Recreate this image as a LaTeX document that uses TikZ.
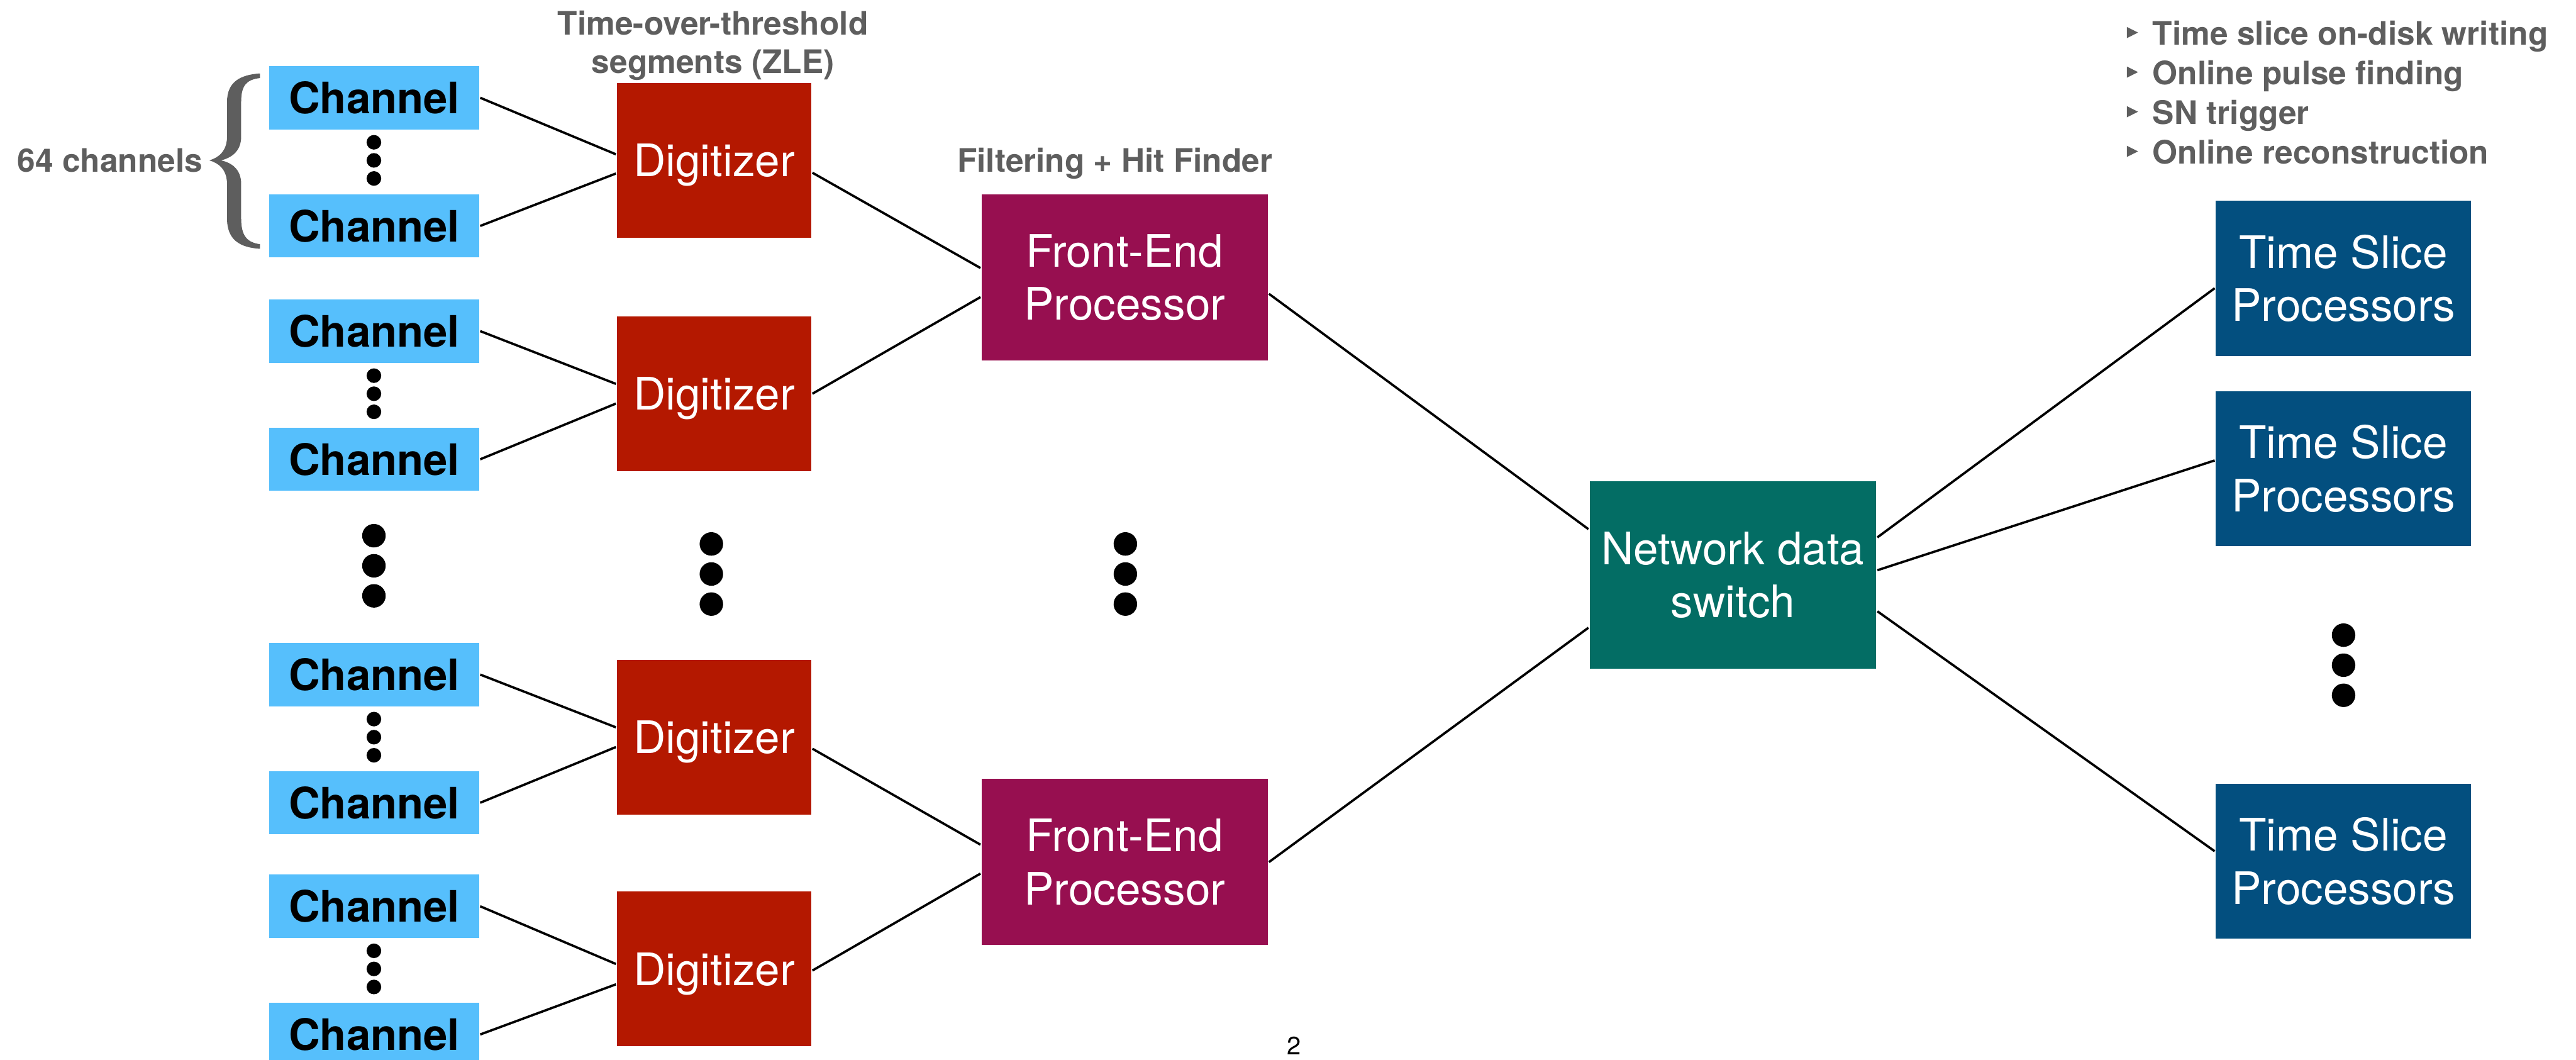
\documentclass[tikz,border=0pt]{standalone}
\usepackage{fontspec}
\setmainfont{TeX Gyre Heros}

\definecolor{chanblue}{HTML}{56BFFC}
\definecolor{digired}{HTML}{B41800}
\definecolor{feppurple}{HTML}{970F50}
\definecolor{switchteal}{HTML}{036D64}
\definecolor{tspblue}{HTML}{034F7F}
\definecolor{notegray}{HTML}{5E5E5E}

\tikzset{
  block/.style={rectangle, inner sep=0pt, align=center, text=white,
    font=\fontsize{15.5}{18.4}\selectfont},
  channel box/.style={block, fill=chanblue, text=black,
    minimum width=25.52mm, minimum height=7.7mm,
    font=\fontsize{15}{18}\selectfont\bfseries},
  digitizer box/.style={block, fill=digired, text depth=0pt,
    minimum width=23.64mm, minimum height=18.8mm},
  fep box/.style={block, fill=feppurple, minimum width=34.84mm, minimum height=20.2mm},
  switch box/.style={block, fill=switchteal, minimum width=34.9mm, minimum height=22.8mm},
  tsp box/.style={block, fill=tspblue, minimum width=31.06mm, minimum height=18.86mm},
  annotation/.style={text=notegray, inner sep=0pt, align=center,
    font=\fontsize{11.2}{13.3}\selectfont\bfseries}
}

\begin{document}
\begin{tikzpicture}[x=0.2mm, y=-0.2mm, line width=0.8pt]

\useasboundingbox (0,0) rectangle (1568,645);

\foreach \g/\y in {1/0, 2/142, 3/351, 4/492} {
  \node [channel box] (channel-\g-1) at (227.8,59.5+\y) {Channel};
  \node [channel box] (channel-\g-2) at (227.8,137.5+\y) {Channel};
  \node [digitizer box] (digitizer-\g) at (434.7,97.6+\y) {Digitizer};
  \foreach \d in {-11,0,11}
    \fill (227.6,97.6+\y+\d) circle (0.89mm);
}

\foreach \y [count=\f] in {168.8,524.6}
  \node [fep box] (fep-\f) at (684.6,\y) {Front-End\\Processor};

\node [switch box] (switch) at (1054.8,350) {Network data\\switch};

\foreach \y [count=\t] in {169.4,285.2,524}
  \node [tsp box] (tsp-\t) at (1426.4,\y) {Time Slice\\Processors};

% connections
\foreach \g/\a/\b in {1/-3.7/8, 2/-6/6, 3/-6/6, 4/-3/9.4} {
  \draw (channel-\g-1.east) -- ([shift={(0,\a)}]digitizer-\g.west);
  \draw (channel-\g-2.east) -- ([shift={(0,\b)}]digitizer-\g.west);
}

\foreach \g/\f/\a/\b in {1/1/7.5/-5.7, 2/1/0/12, 3/2/7/-10.6, 4/2/1/7}
  \draw ([shift={(0,\a)}]digitizer-\g.east) -- ([shift={(0,\b)}]fep-\f.west);

\foreach \f/\a/\b in {1/10/-28, 2/0/32}
  \draw ([shift={(0,\a)}]fep-\f.east) -- ([shift={(0,\b)}]switch.west);

\foreach \t/\a/\b in {1/-23/6, 2/-3/-5, 3/22/-6}
  \draw ([shift={(0,\a)}]switch.east) -- ([shift={(0,\b)}]tsp-\t.west);

% vertical dots
\foreach \x/\y in {227.6/326, 433/331, 685/331, 1426.5/386.5}
  \foreach \d in {0,18.3,36.6}
    \fill (\x,\y+\d) circle (1.43mm);

% brace
\fill [notegray] (158.2,44.7) .. controls (146,45.5) and (138.2,50) .. (138.2,62)
  -- (138.2,83) .. controls (138.2,92) and (133,96) .. (127.4,97.6)
  .. controls (133,99.2) and (138.2,103) .. (138.2,112.2)
  -- (138.2,133) .. controls (138.2,146) and (146,150.6) .. (158.2,151.4)
  -- (158.2,148.6) .. controls (150,147.5) and (146.8,143) .. (146.8,133)
  -- (146.8,112) .. controls (146.8,103) and (141,99) .. (134.5,97.6)
  .. controls (141,96) and (146.8,92) .. (146.8,83)
  -- (146.8,62) .. controls (146.8,52) and (150,48.5) .. (158.2,47.5) -- cycle;

\node [annotation, anchor=base west] (n-channels) at (9.9,104.8) {64 channels};
\node [annotation, anchor=base] (zle) at (434,44.5) {Time-over-threshold\\segments (ZLE)};
\node [annotation, anchor=base] (hit-finder) at (678.6,104.8) {Filtering + Hit Finder};

\foreach \l [count=\i] in {Time slice on-disk writing, Online pulse finding, SN trigger, Online reconstruction} {
  \node [annotation, anchor=base west] (task-\i) at (1309.6,3.3+24.1*\i) {\l};
  \fill [notegray] (1294.6,-7.7+24.1*\i) -- (1301.4,-4.3+24.1*\i) -- (1294.6,-0.9+24.1*\i) -- cycle;
}

\node [font=\fontsize{8.7}{10}\selectfont, anchor=base] (page) at (787.5,641.6) {2};

\end{tikzpicture}
\end{document}
